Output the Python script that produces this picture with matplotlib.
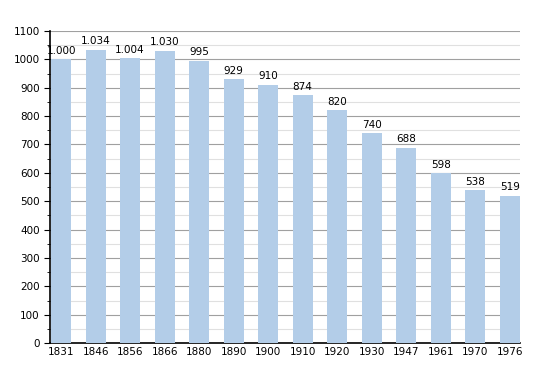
import matplotlib.pyplot as plt
from matplotlib.ticker import MultipleLocator

# Population by census year
years = ["1831", "1846", "1856", "1866", "1880", "1890", "1900",
         "1910", "1920", "1930", "1947", "1961", "1970", "1976"]
population = [1000, 1034, 1004, 1030, 995, 929, 910,
              874, 820, 740, 688, 598, 538, 519]
labels = ["1.000", "1.034", "1.004", "1.030", "995", "929", "910",
          "874", "820", "740", "688", "598", "538", "519"]

fig = plt.figure(figsize=(5.5, 3.73), dpi=100)
ax = fig.add_axes([0.091, 0.080, 0.854, 0.837])

x = list(range(len(years)))
ax.bar(x, population, width=0.58, color="#b3cde8", zorder=3)

for xi, v, lab in zip(x, population, labels):
    ax.text(xi, v + 12, lab, ha="center", va="bottom", fontsize=7.5, zorder=4)

ax.set_xlim(-0.32, len(years) - 0.71)
ax.set_ylim(0, 1100)
ax.yaxis.set_major_locator(MultipleLocator(100))
ax.yaxis.set_minor_locator(MultipleLocator(50))
ax.grid(axis="y", which="major", color="#a0a0a0", linewidth=0.8, zorder=0)
ax.grid(axis="y", which="minor", color="#e0e0e0", linewidth=0.8, zorder=0)

ax.set_xticks(x)
ax.set_xticklabels(years)
ax.tick_params(axis="x", length=0, labelsize=7.5, pad=3)
ax.tick_params(axis="y", which="major", length=4, labelsize=7.5)
ax.tick_params(axis="y", which="minor", length=2)

for side in ["top", "right"]:
    ax.spines[side].set_visible(False)
ax.spines["left"].set_linewidth(1.2)
ax.spines["bottom"].set_linewidth(1.2)

fig.savefig("out.png", dpi=100)
